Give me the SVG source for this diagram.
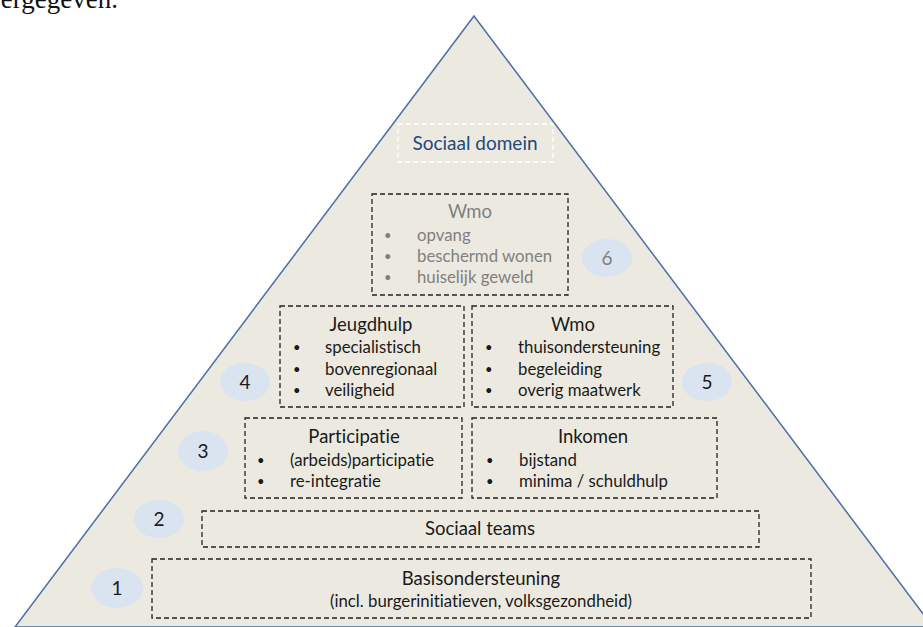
<svg xmlns="http://www.w3.org/2000/svg" width="923" height="627" viewBox="0 0 923 627">
<style>
.t{font-family:Lato,"Liberation Sans",sans-serif;fill:#1a1a1a;font-variant-ligatures:none}
.g{fill:#808080}
.b{font-size:13px}
.box{fill:none;stroke:#222;stroke-width:1.3;stroke-dasharray:5,3}
.num{fill:#DAE3F0}
.c{text-anchor:middle}
</style>
<rect width="923" height="627" fill="#fff"/>
<text x="118" y="8" font-family="'Liberation Serif',serif" font-size="27" text-anchor="end" fill="#111">ergegeven.</text>
<polygon points="474,16 15,627 933,627" fill="#ECEAE0" stroke="#4A6FA5" stroke-width="1.5"/>
<g id="sociaal-domein">
<rect x="398" y="124" width="155" height="38" fill="none" stroke="#fff" stroke-width="1.3" stroke-dasharray="5,3"/>
<text class="t c" x="475" y="150" font-size="19" style="fill:#1F497D">Sociaal domein</text>
</g>
<g id="wmo-6">
<rect class="box" x="372" y="194" width="196" height="101"/>
<text class="t c g" x="470" y="218" font-size="18.5">Wmo</text>
<g class="t g" font-size="16.8">
<text class="b" x="384" y="240">•</text><text x="417" y="241">opvang</text>
<text class="b" x="384" y="261">•</text><text x="417" y="262">beschermd wonen</text>
<text class="b" x="384" y="282">•</text><text x="417" y="283">huiselijk geweld</text>
</g>
</g>
<g id="jeugdhulp">
<rect class="box" x="280" y="306" width="184" height="101"/>
<text class="t c" x="371" y="331" font-size="18.5">Jeugdhulp</text>
<g class="t" font-size="16.8">
<text class="b" x="293" y="352">•</text><text x="325" y="353">specialistisch</text>
<text class="b" x="293" y="374">•</text><text x="325" y="375">bovenregionaal</text>
<text class="b" x="293" y="395">•</text><text x="325" y="396">veiligheid</text>
</g>
</g>
<g id="wmo-5">
<rect class="box" x="472" y="306" width="201" height="101"/>
<text class="t c" x="573" y="331" font-size="18.5">Wmo</text>
<g class="t" font-size="16.8">
<text class="b" x="485" y="352">•</text><text x="518" y="353">thuisondersteuning</text>
<text class="b" x="485" y="374">•</text><text x="518" y="375">begeleiding</text>
<text class="b" x="485" y="395">•</text><text x="518" y="396">overig maatwerk</text>
</g>
</g>
<g id="participatie">
<rect class="box" x="245" y="418" width="217" height="80"/>
<text class="t c" x="354" y="443" font-size="18.5">Participatie</text>
<g class="t" font-size="16.8">
<text class="b" x="257" y="465">•</text><text x="290" y="466">(arbeids)participatie</text>
<text class="b" x="257" y="486">•</text><text x="290" y="487">re-integratie</text>
</g>
</g>
<g id="inkomen">
<rect class="box" x="472" y="418" width="245" height="80"/>
<text class="t c" x="593" y="443" font-size="18.5">Inkomen</text>
<g class="t" font-size="16.8">
<text class="b" x="486" y="465">•</text><text x="519" y="466">bijstand</text>
<text class="b" x="486" y="486">•</text><text x="519" y="487">minima / schuldhulp</text>
</g>
</g>
<g id="sociaal-teams">
<rect class="box" x="202" y="511" width="557" height="36"/>
<text class="t c" x="480" y="535" font-size="18.5">Sociaal teams</text>
</g>
<g id="basisondersteuning">
<rect class="box" x="152" y="559" width="659" height="59"/>
<text class="t c" x="481" y="585" font-size="18.5">Basisondersteuning</text>
<text class="t c" x="481" y="607" font-size="16.8">(incl. burgerinitiatieven, volksgezondheid)</text>
</g>
<g id="labels">
<ellipse class="num" cx="117" cy="588" rx="26" ry="20"/>
<text class="t c" x="117" y="595" font-size="19">1</text>
<ellipse class="num" cx="159" cy="519" rx="25" ry="19"/>
<text class="t c" x="159" y="526" font-size="19">2</text>
<ellipse class="num" cx="203" cy="451" rx="25" ry="20"/>
<text class="t c" x="203" y="458" font-size="19">3</text>
<ellipse class="num" cx="245" cy="382" rx="25" ry="19"/>
<text class="t c" x="245" y="389" font-size="19">4</text>
<ellipse class="num" cx="707" cy="382" rx="25" ry="19"/>
<text class="t c" x="707" y="389" font-size="19">5</text>
<ellipse class="num" cx="607" cy="258" rx="25" ry="19"/>
<text class="t c g" x="607" y="265" font-size="19">6</text>
</g>
<g id="connectors"></g>
</svg>
